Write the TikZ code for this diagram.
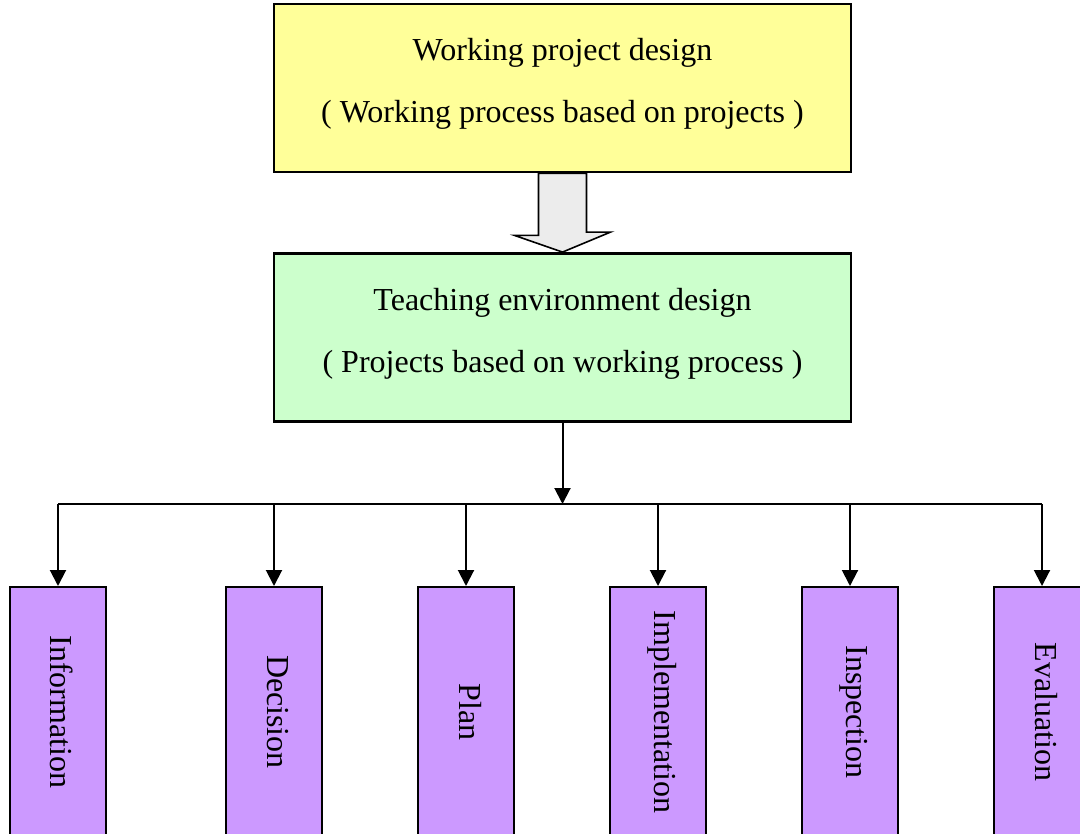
\documentclass[tikz,border=0pt]{standalone}
\usepackage{fontspec}
\setmainfont{Liberation Serif}
\usepackage{graphicx}
\usetikzlibrary{arrows.meta}

\definecolor{designyellow}{HTML}{FFFF99}
\definecolor{teachgreen}{HTML}{CCFFCC}
\definecolor{phaseviolet}{HTML}{CC99FF}

\newcommand{\lifttext}[1]{\raisebox{2pt}[\height][\depth]{#1}}

\tikzset{
  bigbox/.style={draw, line width=1.4pt, minimum width=288.5pt, minimum height=84pt,
    align=center, font=\fontsize{16}{19}\selectfont},
  stepbox/.style={draw, line width=1pt, fill=phaseviolet, minimum width=48pt,
    minimum height=125pt, font=\fontsize{16}{19}\selectfont},
}

\begin{document}
\begin{tikzpicture}[x=0.5pt, y=-0.5pt, >={Triangle[length=8pt,width=8pt]}, line width=1pt]
  \useasboundingbox (0,0) rectangle (1080,834);
  \node [bigbox, fill=designyellow] (work) at (562.5,88)
    {\lifttext{Working project design}\\[12pt]\lifttext{( Working process based on projects )}};
  \node [bigbox, fill=teachgreen] (teach) at (562.5,337.5)
    {\lifttext{Teaching environment design}\\[12pt]\lifttext{( Projects based on working process )}};
  % hollow arrow
  \draw [fill=gray!15, line width=0.8pt] ([xshift=-12pt]work.south) -- ++(0,62) -- ++(-24,0)
    -- (teach.north) -- ++(48,-20) -- ++(-24,0) -- ([xshift=12pt]work.south) -- cycle;
  \node [stepbox] (info) at (58,712) {\hspace{4pt}\rotatebox{-90}{Information}};
  \node [stepbox] (dec) at (274,712) {\hspace{4pt}\rotatebox{-90}{Decision}};
  \node [stepbox] (plan) at (466,712) {\hspace{4pt}\rotatebox{-90}{Plan}};
  \node [stepbox] (impl) at (658,712) {\hspace{4pt}\rotatebox{-90}{Implementation}};
  \node [stepbox] (insp) at (850,712) {\hspace{4pt}\rotatebox{-90}{Inspection}};
  \node [stepbox] (eval) at (1042,712) {\hspace{4pt}\rotatebox{-90}{Evaluation}};
  \coordinate (split) at (562.5,504);
  \draw [->] (teach.south) -- (split);
  \draw (info.north |- split) -- (eval.north |- split);
  \foreach \n in {info,dec,plan,impl,insp,eval}
    \draw [->] (\n.north |- split) -- (\n.north);
\end{tikzpicture}
\end{document}
